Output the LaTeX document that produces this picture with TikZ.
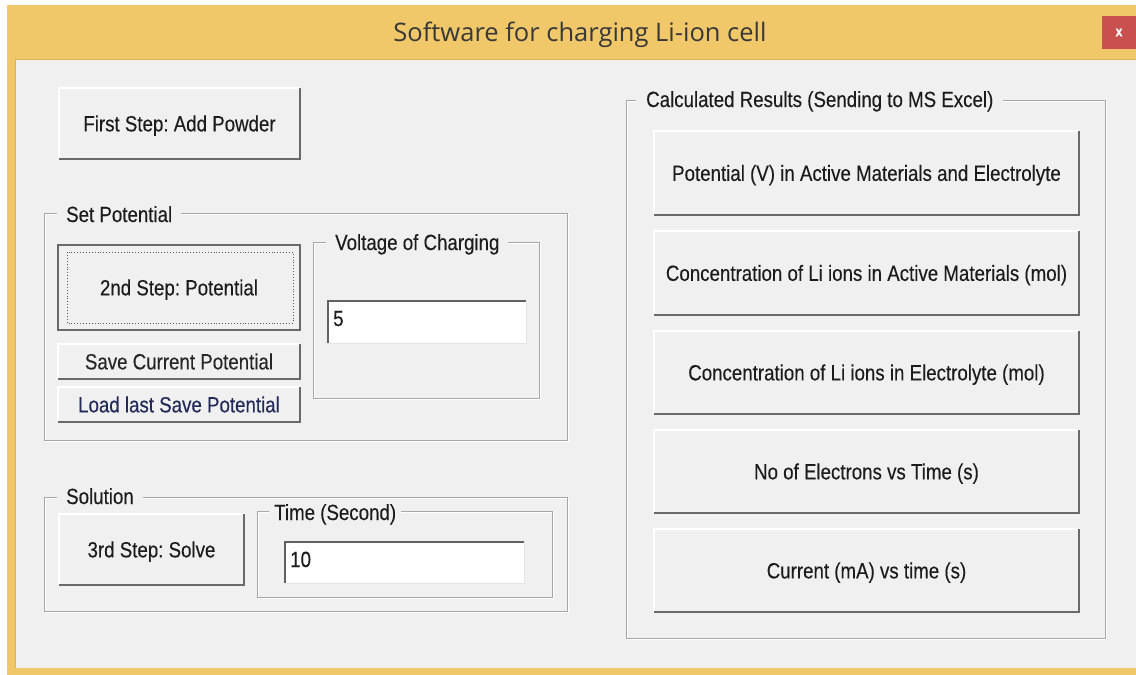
\documentclass[tikz,border=0pt]{standalone}
\usepackage{fontspec}
\setmainfont[FakeStretch=0.85,FakeBold=0.25]{Liberation Sans}
\newfontfamily\titlefont{Open Sans}
\frenchspacing
\definecolor{winyellow}{HTML}{F0C86A}
\definecolor{winedge}{HTML}{D9B45A}
\definecolor{face}{HTML}{F0F0F0}
\definecolor{shd}{HTML}{696969}
\definecolor{etch}{HTML}{A6A6A6}
\definecolor{txt}{HTML}{1C1C1C}
\definecolor{closered}{HTML}{C9504F}
\definecolor{loadblue}{HTML}{222A58}
\newcommand\wbevel[1]{%
  \draw[hilite] (#1.south west) -- (#1.north west) -- (#1.north east);
  \draw[shadowline] (#1.north east) -- (#1.south east) -- (#1.south west);}
\newcommand\wsunk[1]{%
  \draw[sunklight] (#1.south west) -- (#1.south east) -- (#1.north east);
  \draw[sunkdark] (#1.south west) -- (#1.north west) -- (#1.north east);}
\newcommand\wetch[1]{%
  \draw[white, line width=1pt] ([shift={(1pt,-1pt)}]#1.north west) rectangle ([shift={(1pt,-1pt)}]#1.south east);
  \draw[etch, line width=1pt] (#1.north west) rectangle (#1.south east);}
\begin{document}
\begin{tikzpicture}[x=1pt,y=-1pt,
  font=\fontsize{22}{26}\selectfont, text=txt,
  btn/.style={fill=face, inner sep=0pt, outer sep=0pt, text height=15.7pt, text depth=0pt, align=center},
  hilite/.style={white, line width=1.5pt},
  shadowline/.style={shd, line width=2.6pt},
  sunklight/.style={draw=black!10, line width=1pt},
  sunkdark/.style={draw=black!62, line width=2pt},
  tbox/.style={fill=white, inner sep=0pt, outer sep=0pt},
  grp/.style={inner sep=0pt, outer sep=0pt},
  grplabel/.style={fill=face, inner ysep=2pt, inner xsep=9pt, anchor=base west},
  value/.style={inner sep=0pt, anchor=base west}]
\useasboundingbox (0,0) rectangle (1136,675);
\fill[white] (0,0) rectangle (1136,675);
\fill[winyellow] (7,5) rectangle (1136,675);
\fill[face] (15,59) rectangle (1136,668);
\draw[winedge, line width=0.8pt] (15,668) -- (15,59) -- (1136,59);

% title bar
\node[anchor=base, inner sep=0pt, font=\titlefont\fontsize{25.5}{30}\selectfont, text=black!78] (title) at (580,41) {Software for charging Li-ion cell};
\node[fill=closered, minimum width=34pt, minimum height=33pt, inner sep=0pt, text=white, font=\bfseries\fontsize{15}{15}\selectfont] (close) at (1119,32.5) {x};

% first step
\node[btn, minimum width=241pt, minimum height=71pt] (b1) at (179.5,123.5) {First Step: Add Powder};
\wbevel{b1}

% Set Potential group
\node[grp, minimum width=523pt, minimum height=227pt] (g1) at (305.5,326.5) {};
\wetch{g1}
\node[grplabel] (g1l) at (57,222) {Set Potential};

\node[btn, minimum width=242pt, minimum height=85pt] (b2) at (179,287.5) {2nd Step: Potential};
\draw[shd, line width=1.5pt] (b2.north west) rectangle (b2.south east);
\draw[shadowline] (b2.north east) -- (b2.south east) -- (b2.south west);
\draw[black!65, line width=0.9pt, dotted] ([shift={(9pt,-7pt)}]b2.north west) rectangle ([shift={(-7pt,7pt)}]b2.south east);

\node[btn, minimum width=242pt, minimum height=35pt, text=black!85] (b3) at (179,361.5) {Save Current Potential};
\wbevel{b3}
\node[btn, minimum width=242pt, minimum height=35pt, text=loadblue] (b4) at (179,404.5) {Load last Save Potential};
\wbevel{b4}

\node[grp, minimum width=226pt, minimum height=156pt] (g1b) at (426,320) {};
\wetch{g1b}
\node[grplabel] (g1bl) at (326,250) {Voltage of Charging};
\node[tbox, minimum width=198pt, minimum height=42pt] (t1) at (427,322) {};
\wsunk{t1}
\node[value] (t1v) at (333,326) {5};

% Solution group
\node[grp, minimum width=523pt, minimum height=114pt] (g2) at (305.5,554) {};
\wetch{g2}
\node[grplabel] (g2l) at (57,504) {Solution};
\node[btn, minimum width=185pt, minimum height=71pt] (b5) at (151.5,549.5) {3rd Step: Solve};
\wbevel{b5}
\node[grp, minimum width=295pt, minimum height=86pt] (g3) at (404.5,554) {};
\wetch{g3}
\node[grplabel, inner xsep=5pt] (g3l) at (269,520) {Time (Second)};
\node[tbox, minimum width=239pt, minimum height=41pt] (t2) at (404.5,562.5) {};
\wsunk{t2}
\node[value] (t2v) at (290,567) {10};

% Results group
\node[grp, minimum width=479pt, minimum height=538pt] (g4) at (865.5,369) {};
\wetch{g4}
\node[grplabel, inner xsep=10pt] (g4l) at (636,107) {Calculated Results (Sending to MS Excel)};
\node[btn, minimum width=425pt, minimum height=84pt] (r1) at (866.5,173) {Potential (V) in Active Materials and Electrolyte};
\wbevel{r1}
\node[btn, minimum width=425pt, minimum height=84pt] (r2) at (866.5,273) {Concentration of Li ions in Active Materials (mol)};
\wbevel{r2}
\node[btn, minimum width=425pt, minimum height=83pt] (r3) at (866.5,372.5) {Concentration of Li ions in Electrolyte (mol)};
\wbevel{r3}
\node[btn, minimum width=425pt, minimum height=83pt] (r4) at (866.5,471.5) {No of Electrons vs Time (s)};
\wbevel{r4}
\node[btn, minimum width=425pt, minimum height=83pt] (r5) at (866.5,570.5) {Current (mA) vs time (s)};
\wbevel{r5}
\end{tikzpicture}
\end{document}
